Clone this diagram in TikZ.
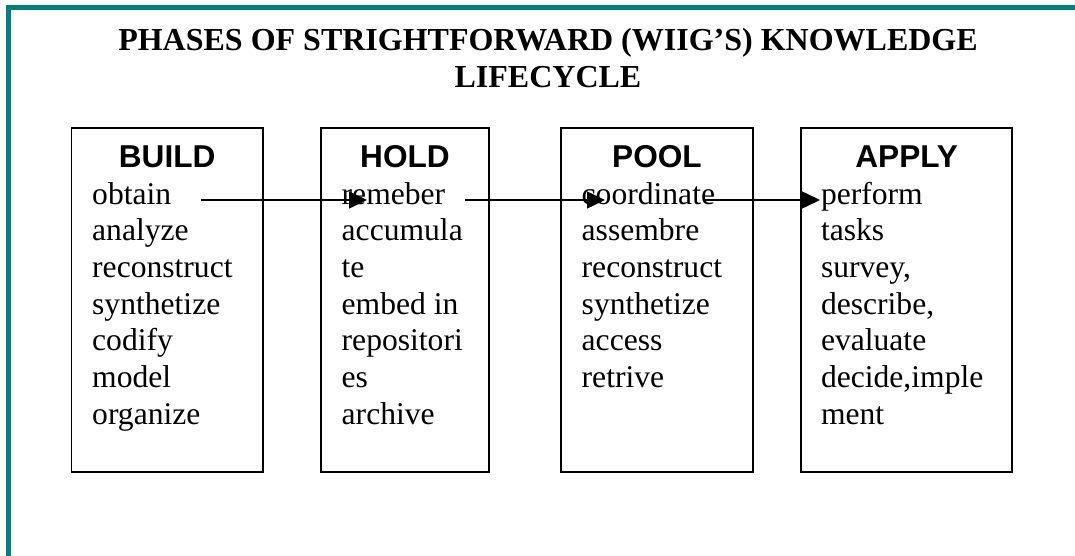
\documentclass[tikz,border=0pt]{standalone}
\usepackage{fontspec}
\setmainfont{Liberation Serif}
\newfontfamily\arialfont{Liberation Sans}
\usetikzlibrary{arrows.meta}
\definecolor{frameteal}{RGB}{0,128,128}
\tikzset{
  phasebox/.style={draw=black, line width=1.6pt, minimum height=343.5pt, inner sep=0pt},
  phasetitle/.style={font=\arialfont\bfseries\fontsize{31.6}{38}\selectfont, anchor=base, inner sep=0pt},
  phasebody/.style={font=\fontsize{31.6}{36.7}\selectfont, align=left, anchor=north west, inner sep=0pt},
  flow/.style={line width=1.5pt, -{Triangle[length=18pt,width=17pt]}},
  headline/.style={font=\bfseries\fontsize{32}{36.9}\selectfont, align=center, anchor=north, inner sep=0pt}
}
\begin{document}
\begin{tikzpicture}[x=1pt, y=-1pt]
\useasboundingbox (0,0) rectangle (1075,556);
% teal frame along the top and left
\draw[frameteal, line width=5pt] (8.5,560) -- (8.5,7.5) -- (1080,7.5);

% heading
\node[headline] (heading) at (548,24.2)
  {\strut PHASES OF STRIGHTFORWARD (WIIG’S) KNOWLEDGE\\LIFECYCLE};

% phase boxes
\node[phasebox, minimum width=191.5pt] (build) at (167.2,300) {};
\node[phasebox, minimum width=167.8pt] (hold)  at (405,300) {};
\node[phasebox, minimum width=191.5pt] (pool)  at (657,300) {};
\node[phasebox, minimum width=210.8pt] (apply) at (906.6,300) {};

% box titles
\node[phasetitle] (buildT) at (build.center |- 0,167.3) {BUILD};
\node[phasetitle] (holdT)  at (hold.center |- 0,167.3)  {HOLD};
\node[phasetitle] (poolT)  at (pool.center |- 0,167.3)  {POOL};
\node[phasetitle] (applyT) at (apply.center |- 0,167.3) {APPLY};

% box contents
\node[phasebody] (buildB) at (92,178.3)
  {\strut obtain\\analyze\\reconstruct\\synthetize\\codify\\model\\organize};
\node[phasebody] (holdB) at (341.5,178.3)
  {\strut remeber\\accumula\\te\\embed in\\repositori\\es\\archive};
\node[phasebody] (poolB) at (581.5,178.3)
  {\strut coordinate\\assembre\\reconstruct\\synthetize\\access\\retrive};
\node[phasebody] (applyB) at (820.8,178.3)
  {\strut perform\\tasks\\survey,\\describe,\\evaluate\\decide,imple\\ment};

% flow arrows
\coordinate (f1s) at (200.5,200);
\coordinate (f1e) at (367,200);
\coordinate (f2s) at (465,200);
\coordinate (f2e) at (605,200);
\coordinate (f3s) at (703,200);
\coordinate (f3e) at (820,200);
\draw[flow] (f1s) -- (f1e);
\draw[flow] (f2s) -- (f2e);
\draw[flow] (f3s) -- (f3e);
\end{tikzpicture}
\end{document}
